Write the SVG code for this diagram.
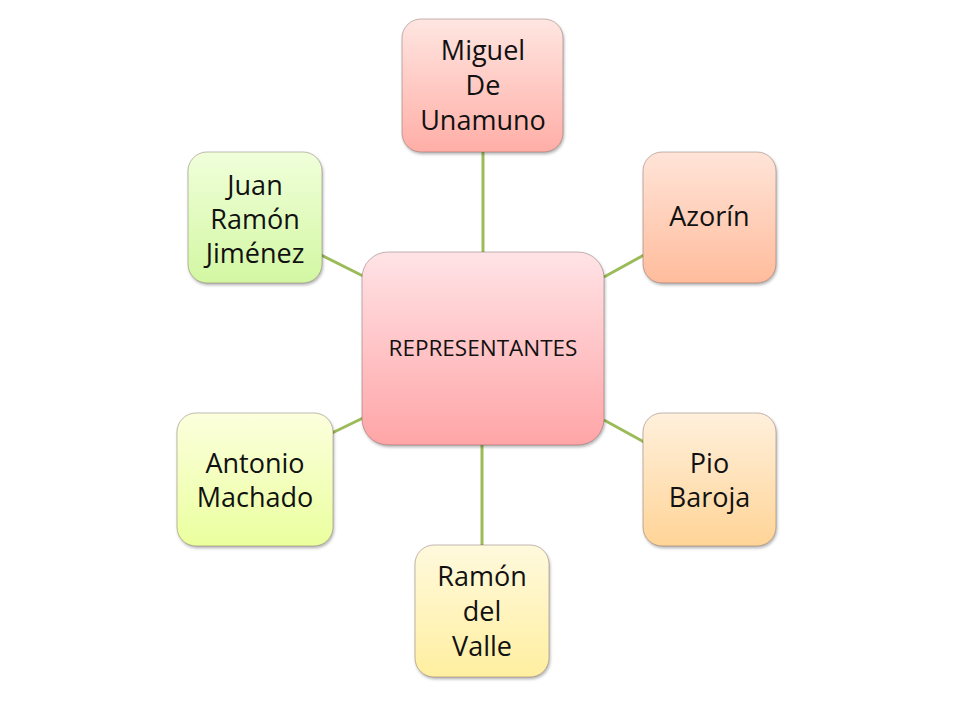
<svg xmlns="http://www.w3.org/2000/svg" width="960" height="720" viewBox="0 0 960 720">
  <defs>
    <style>
      .node { stroke: rgba(90,60,60,0.35); stroke-width: 1; filter: url(#shadow); }
      .lbl { font-family: "Open Sans", "Liberation Sans", sans-serif; font-size: 27px; fill: #111; text-anchor: middle; }
      .clbl { font-family: "Open Sans", "Liberation Sans", sans-serif; font-size: 22.5px; fill: #111; text-anchor: middle; }
      .conn { stroke: #9BBB59; stroke-width: 3; fill: none; }
    </style>
    <filter id="shadow" x="-10%" y="-10%" width="125%" height="125%">
      <feDropShadow dx="1" dy="2" stdDeviation="1.5" flood-color="#000" flood-opacity="0.3"/>
    </filter>
    <linearGradient id="gCenter" x1="0" y1="0" x2="0" y2="1">
      <stop offset="0" stop-color="#FFE3E6"/>
      <stop offset="1" stop-color="#FFA5A7"/>
    </linearGradient>
    <linearGradient id="gMiguel" x1="0" y1="0" x2="0" y2="1">
      <stop offset="0" stop-color="#FFE6E1"/>
      <stop offset="1" stop-color="#FFAEA6"/>
    </linearGradient>
    <linearGradient id="gAzorin" x1="0" y1="0" x2="0" y2="1">
      <stop offset="0" stop-color="#FFE4D8"/>
      <stop offset="1" stop-color="#FFBC9C"/>
    </linearGradient>
    <linearGradient id="gPio" x1="0" y1="0" x2="0" y2="1">
      <stop offset="0" stop-color="#FFF0DC"/>
      <stop offset="1" stop-color="#FFD497"/>
    </linearGradient>
    <linearGradient id="gRamon" x1="0" y1="0" x2="0" y2="1">
      <stop offset="0" stop-color="#FFF9DD"/>
      <stop offset="1" stop-color="#FFEFA0"/>
    </linearGradient>
    <linearGradient id="gAntonio" x1="0" y1="0" x2="0" y2="1">
      <stop offset="0" stop-color="#FCFFDD"/>
      <stop offset="1" stop-color="#EAFF9E"/>
    </linearGradient>
    <linearGradient id="gJuan" x1="0" y1="0" x2="0" y2="1">
      <stop offset="0" stop-color="#F0FFDA"/>
      <stop offset="1" stop-color="#D3F7A3"/>
    </linearGradient>
  </defs>
  <rect width="960" height="720" fill="#FFFFFF"/>

  <g id="connectors">
    <line class="conn" x1="483" y1="152" x2="483" y2="253"/>
    <line class="conn" x1="604" y1="277" x2="644" y2="255"/>
    <line class="conn" x1="604" y1="420" x2="644" y2="442"/>
    <line class="conn" x1="482" y1="444" x2="482" y2="546"/>
    <line class="conn" x1="332" y1="433" x2="363" y2="418"/>
    <line class="conn" x1="321" y1="255" x2="363" y2="276"/>
  </g>

  <g id="node-center">
    <rect class="node" x="362" y="252" width="242" height="193" rx="26" ry="26" fill="url(#gCenter)"/>
    <text class="clbl" x="483" y="356">REPRESENTANTES</text>
  </g>

  <g id="node-miguel">
    <rect class="node" x="402" y="19" width="161" height="133" rx="19" ry="19" fill="url(#gMiguel)"/>
    <text class="lbl" x="483" y="60">Miguel</text>
    <text class="lbl" x="483" y="95">De</text>
    <text class="lbl" x="483" y="130">Unamuno</text>
  </g>

  <g id="node-azorin">
    <rect class="node" x="643" y="152" width="133" height="131" rx="19" ry="19" fill="url(#gAzorin)"/>
    <text class="lbl" x="709.5" y="226">Azorín</text>
  </g>

  <g id="node-pio">
    <rect class="node" x="643" y="413" width="133" height="133" rx="19" ry="19" fill="url(#gPio)"/>
    <text class="lbl" x="709.5" y="473">Pio</text>
    <text class="lbl" x="709.5" y="507">Baroja</text>
  </g>

  <g id="node-ramon">
    <rect class="node" x="415" y="545" width="134" height="132" rx="19" ry="19" fill="url(#gRamon)"/>
    <text class="lbl" x="482" y="586">Ramón</text>
    <text class="lbl" x="482" y="621">del</text>
    <text class="lbl" x="482" y="656">Valle</text>
  </g>

  <g id="node-antonio">
    <rect class="node" x="177" y="413" width="156" height="133" rx="19" ry="19" fill="url(#gAntonio)"/>
    <text class="lbl" x="255" y="473">Antonio</text>
    <text class="lbl" x="255" y="507">Machado</text>
  </g>

  <g id="node-juan">
    <rect class="node" x="188" y="152" width="134" height="131" rx="19" ry="19" fill="url(#gJuan)"/>
    <text class="lbl" x="255" y="195">Juan</text>
    <text class="lbl" x="255" y="229">Ramón</text>
    <text class="lbl" x="255" y="263">Jiménez</text>
  </g>
</svg>
